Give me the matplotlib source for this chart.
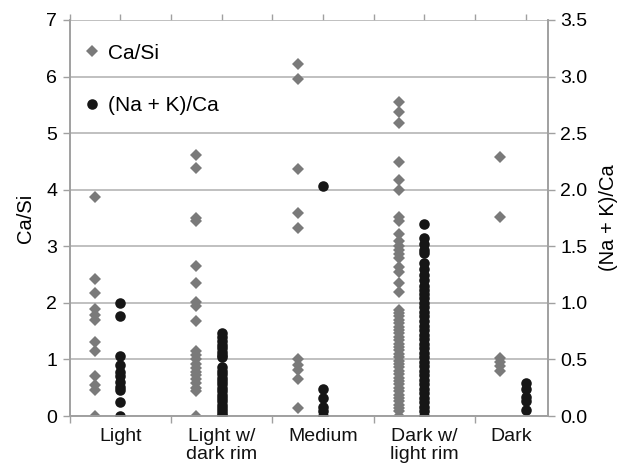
import matplotlib
matplotlib.use("Agg")
import matplotlib.pyplot as plt
from matplotlib.lines import Line2D

plt.rcParams['font.family'] = ['Liberation Sans', 'DejaVu Sans']

categories = ["Light", "Light w/\ndark rim", "Medium", "Dark w/\nlight rim", "Dark"]

# Ca/Si values (left axis), one list per category
casi_light = [3.87, 2.42, 2.17, 1.90, 1.78, 1.70, 1.30, 1.15, 0.70, 0.55, 0.46, 0.0]
casi_lightdr = [4.62, 4.38, 3.50, 3.45, 2.65, 2.35, 2.02, 1.95, 1.68, 1.15, 1.08, 1.00,
                0.92, 0.85, 0.78, 0.72, 0.65, 0.58, 0.50, 0.45, 0.0]
casi_medium = [6.23, 5.96, 4.37, 3.59, 3.33, 1.00, 0.90, 0.81, 0.65, 0.15]
casi_darklr = [5.55, 5.37, 5.18, 4.49, 4.18, 3.99, 3.52, 3.45, 3.22, 3.10, 3.00, 2.93,
               2.87, 2.80, 2.63, 2.55, 2.35, 2.19, 1.87, 1.82, 1.76, 1.70, 1.64, 1.58,
               1.52, 1.46, 1.40, 1.34, 1.28, 1.22, 1.16, 1.10, 1.04, 0.98, 0.92, 0.86,
               0.80, 0.74, 0.68, 0.62, 0.56, 0.50, 0.44, 0.38, 0.32, 0.26, 0.20, 0.14,
               0.08, 0.0]
casi_dark = [4.57, 3.51, 1.03, 0.95, 0.88, 0.80]

# (Na+K)/Ca values (right axis)
nak_light = [1.00, 0.88, 0.53, 0.45, 0.39, 0.35, 0.30, 0.26, 0.23, 0.12, 0.0]
nak_lightdr = [0.73, 0.70, 0.66, 0.63, 0.60, 0.57, 0.54, 0.52, 0.43, 0.40, 0.37, 0.34,
               0.31, 0.28, 0.25, 0.22, 0.19, 0.16, 0.13, 0.10, 0.07, 0.04, 0.02, 0.0]
nak_medium = [2.03, 0.235, 0.155, 0.08, 0.04, 0.0]
nak_darklr = [1.70, 1.57, 1.52, 1.47, 1.44, 1.35, 1.30, 1.25, 1.20, 1.15, 1.11, 1.08,
              1.04, 1.00, 0.96, 0.92, 0.88, 0.84, 0.80, 0.76, 0.72, 0.68, 0.64, 0.60,
              0.56, 0.52, 0.48, 0.44, 0.40, 0.36, 0.32, 0.28, 0.24, 0.20, 0.16, 0.12,
              0.08, 0.04, 0.0]
nak_dark = [0.29, 0.235, 0.17, 0.13, 0.05]

casi_all = [casi_light, casi_lightdr, casi_medium, casi_darklr, casi_dark]
nak_all = [nak_light, nak_lightdr, nak_medium, nak_darklr, nak_dark]

left_ticks = [0, 1, 2, 3, 4, 5, 6, 7]
right_ticks = [0.0, 0.5, 1.0, 1.5, 2.0, 2.5, 3.0, 3.5]

gray = "#7a7a7a"
black = "#161616"
axis_col = "#a0a0a0"

fig = plt.figure(figsize=(6.29, 4.76), dpi=100)
ax = fig.add_axes([0.111, 0.126, 0.76, 0.832])
ax2 = ax.twinx()

for i, vals in enumerate(casi_all):
    ax.plot([i + 0.25] * len(vals), vals, linestyle='none', marker='D',
            markersize=6.4, color=gray, markeredgewidth=0)
for i, vals in enumerate(nak_all):
    ax2.plot([i + 0.5] * len(vals), vals, linestyle='none', marker='o',
             markersize=7.6, color=black, markeredgewidth=0)

ax.set_xlim(0, 4.72)
ax.set_ylim(0, 7)
ax2.set_ylim(0, 3.5)
ax.set_yticks(left_ticks)
ax.set_yticklabels([str(t) for t in left_ticks])
ax2.set_yticks(right_ticks)
ax2.set_yticklabels([f"{t:.1f}" for t in right_ticks])

ax.yaxis.grid(True, color="#b5b5b5", linewidth=1.2)
ax.set_axisbelow(True)

ax.set_xticks([0, 1, 2, 3, 4])
ax.set_xticklabels([])
label_pos = [0.5, 1.5, 2.5, 3.5, 4.36]
for x, lab in zip(label_pos, categories):
    ax.text(x, -0.22, lab, ha='center', va='top', fontsize=14,
            transform=ax.transData, color="#111111", linespacing=1.05)

top = ax.secondary_xaxis('top')
top.set_xticks([0.5 * k for k in range(10)])
top.set_xticklabels([])
top.tick_params(axis='x', length=4, color=axis_col, width=1)
top.spines['top'].set_visible(False)

for a in (ax, ax2):
    for s in a.spines.values():
        s.set_color(axis_col)
        s.set_linewidth(1.2)
ax.spines['top'].set_visible(False)
ax2.spines['top'].set_visible(False)

ax.tick_params(axis='x', length=5, color=axis_col, width=1)
ax.tick_params(axis='y', length=5, color=axis_col, width=1, labelsize=14, pad=4)
ax2.tick_params(axis='y', length=5, color=axis_col, width=1, labelsize=14, pad=4)

ax.set_ylabel("Ca/Si", fontsize=14.5, labelpad=8)
ax2.set_ylabel("(Na + K)/Ca", fontsize=14.5, labelpad=8)

handles = [Line2D([], [], linestyle='none', marker='D', markersize=6.4, color=gray,
                  markeredgewidth=0),
           Line2D([], [], linestyle='none', marker='o', markersize=7.6, color=black,
                  markeredgewidth=0)]
leg = ax2.legend(handles, ["Ca/Si", "(Na + K)/Ca"], loc='upper left',
                 bbox_to_anchor=(-0.019, 0.993), frameon=False, fontsize=15,
                 labelspacing=1.6, handletextpad=0.25, handlelength=1.0,
                 borderaxespad=0.7, borderpad=0.3)

fig.savefig("out.png", dpi=100)
